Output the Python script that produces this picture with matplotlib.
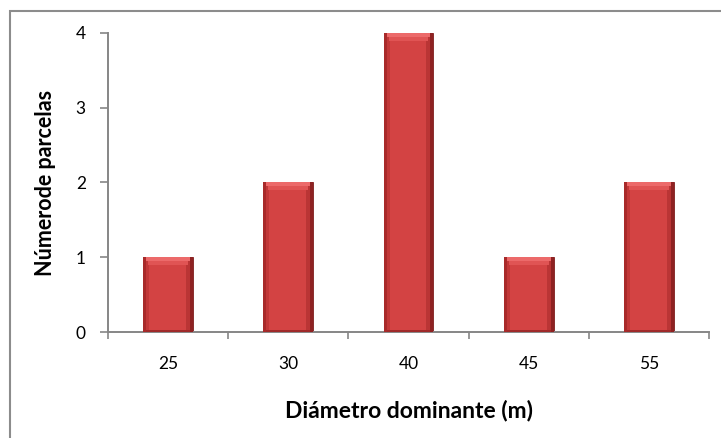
import matplotlib.pyplot as plt
from matplotlib.patches import Rectangle

plt.rcParams['font.family'] = ['Lato', 'DejaVu Sans']

categorias = ['25', '30', '40', '45', '55']
parcelas = [1, 2, 4, 1, 2]
yticks = [0, 1, 2, 3, 4]

fig = plt.figure(figsize=(7.21, 4.38), dpi=100)
ax = fig.add_axes([0.1498, 0.242, 0.8336, 0.6827])

x = list(range(len(categorias)))
width = 0.415
bars = ax.bar(x, parcelas, width=width, color='#D34343', edgecolor='#7A1C1C',
              linewidth=0.6, zorder=2)

# efecto bisel: bordes oscuros a los lados y brillo arriba
px_x = 1.0 / 120.2
px_y = 4.0 / 299
for b in bars:
    x0, w, h = b.get_x(), b.get_width(), b.get_height()
    ax.add_patch(Rectangle((x0, 0), 3 * px_x, h, color='#A82A2A', lw=0, zorder=3))
    ax.add_patch(Rectangle((x0 + 3 * px_x, 0), 3 * px_x, h, color='#C23838', lw=0, zorder=3))
    ax.add_patch(Rectangle((x0 + w - 3 * px_x, 0), 3 * px_x, h, color='#8E2222', lw=0, zorder=3))
    ax.add_patch(Rectangle((x0 + w - 7 * px_x, 0), 4 * px_x, h, color='#BA3535', lw=0, zorder=3))
    ax.add_patch(Rectangle((x0 + 3 * px_x, h - 4 * px_y), w - 6 * px_x, 4 * px_y,
                           color='#EC6A6A', lw=0, zorder=4))
    ax.add_patch(Rectangle((x0 + 5 * px_x, h - 8 * px_y), w - 10 * px_x, 4 * px_y,
                           color='#E05454', lw=0, zorder=4))
    ax.add_patch(Rectangle((x0 + 3 * px_x, 0), w - 6 * px_x, 2 * px_y,
                           color='#A02A2A', lw=0, zorder=4))

ax.set_xlim(-0.5, len(categorias) - 0.5)
ax.set_ylim(0, 4)
ax.set_yticks(yticks)
ax.set_xticks(x)
ax.set_xticklabels(categorias)
ax.set_xticks([i - 0.5 for i in range(len(categorias) + 1)], minor=True)
ax.tick_params(axis='x', which='major', length=0, pad=17, labelsize=12.5)
ax.tick_params(axis='x', which='minor', length=5, color='#868686', width=1.2)
ax.tick_params(axis='y', length=6, color='#868686', width=1.2, pad=10, labelsize=12.5)

for s in ['top', 'right']:
    ax.spines[s].set_visible(False)
for s in ['left', 'bottom']:
    ax.spines[s].set_color('#868686')
    ax.spines[s].set_linewidth(1.4)

ax.set_xlabel('Diámetro dominante (m)', fontsize=16.5, fontweight='bold', labelpad=20)
ax.set_ylabel('Númerode parcelas', fontsize=15.5, fontweight='bold', labelpad=14)

# marco del gráfico
fig.add_artist(Rectangle((10 / 721, -0.01), 1.0, 1 - 11 / 438 + 0.01, transform=fig.transFigure,
                         fill=False, edgecolor='#8C8C8C', linewidth=1.5))

fig.savefig('out.png', dpi=100)
